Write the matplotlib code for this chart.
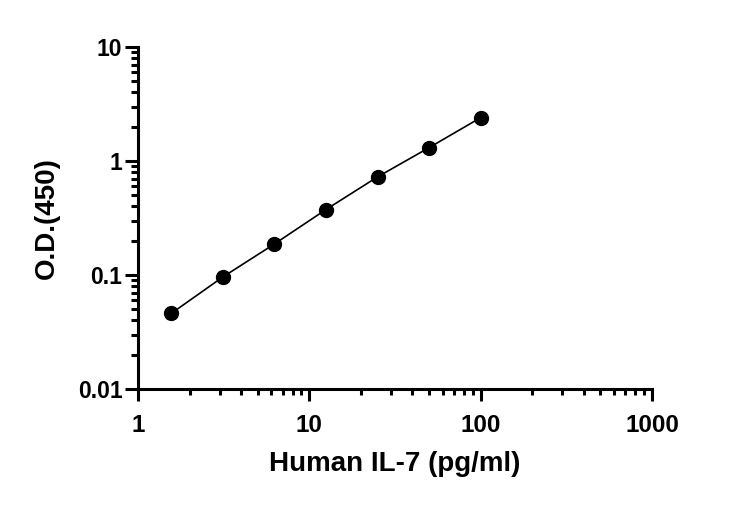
import matplotlib.pyplot as plt
from matplotlib.ticker import LogLocator, FixedLocator, NullFormatter

# Datos de la curva estandar
concentracion = [1.5625, 3.125, 6.25, 12.5, 25, 50, 100]
densidad_optica = [0.046, 0.096, 0.187, 0.375, 0.725, 1.31, 2.4]

x_ticks = [1, 10, 100, 1000]
x_tick_labels = ['1', '10', '100', '1000']
y_ticks = [0.01, 0.1, 1, 10]
y_tick_labels = ['0.01', '0.1', '1', '10']

plt.rcParams['font.family'] = ['Liberation Sans', 'DejaVu Sans']
plt.rcParams['font.weight'] = 'bold'

fig = plt.figure(figsize=(7.32, 5.07), dpi=100)
ax = fig.add_axes([0.1885, 0.2327, 0.7022, 0.6746])

ax.plot(concentracion, densidad_optica, color='black', lw=1.2, marker='o',
        markersize=10, markerfacecolor='black', markeredgecolor='black')

ax.set_xscale('log')
ax.set_yscale('log')
ax.set_xlim(1, 1000)
ax.set_ylim(0.01, 10)

ax.xaxis.set_major_locator(FixedLocator(x_ticks))
ax.set_xticklabels(x_tick_labels)
ax.yaxis.set_major_locator(FixedLocator(y_ticks))
ax.set_yticklabels(y_tick_labels)
ax.xaxis.set_minor_locator(LogLocator(base=10, subs=range(2, 10)))
ax.yaxis.set_minor_locator(LogLocator(base=10, subs=range(2, 10)))
ax.xaxis.set_minor_formatter(NullFormatter())
ax.yaxis.set_minor_formatter(NullFormatter())

# Quitar bordes superior y derecho
ax.spines['top'].set_visible(False)
ax.spines['right'].set_visible(False)
for s in ['left', 'bottom']:
    ax.spines[s].set_linewidth(2.2)

ax.tick_params(axis='x', which='major', length=8.6, width=2.2, labelsize=17.5, pad=9.5)
ax.tick_params(axis='x', which='minor', length=4.5, width=2.2)
ax.tick_params(axis='y', which='major', length=9.2, width=2.2, labelsize=16.5, pad=2)
ax.tick_params(axis='y', which='minor', length=5, width=2.2)

ax.set_xlabel('Human IL-7 (pg/ml)', fontsize=20, fontweight='bold', labelpad=10)
ax.set_ylabel('O.D.(450)', fontsize=20, fontweight='bold', labelpad=13)

fig.savefig('out.png', dpi=100)
